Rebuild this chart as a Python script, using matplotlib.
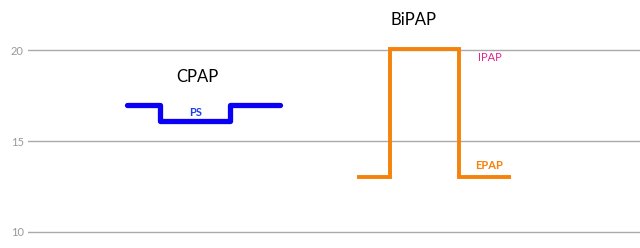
import matplotlib
matplotlib.use("Agg")
import matplotlib.pyplot as plt

# time axis in arbitrary units, pressure in cmH2O
cpap_x = [99, 132, 132, 202, 202, 252]
cpap_y = [17, 17, 16.1, 16.1, 17, 17]

bipap_x = [329, 362, 362, 431, 431, 483]
bipap_y = [13, 13, 20.05, 20.05, 13, 13]

yticks = [10, 15, 20]

plt.rcParams['font.family'] = ['Lato', 'DejaVu Sans']

fig = plt.figure(figsize=(6.4, 2.48), dpi=100)
ax = fig.add_axes([28 / 640, 14.2 / 248, 612 / 640, 233.8 / 248])

ax.plot(cpap_x, cpap_y, color='#0a00f5', lw=3.8, solid_capstyle='round', solid_joinstyle='round')
ax.plot(bipap_x, bipap_y, color='#f5820a', lw=2.8, solid_capstyle='butt', solid_joinstyle='miter')

ax.text(169, 18.5, 'CPAP', ha='center', va='center', fontsize=12, color='black')
ax.text(385, 21.65, 'BiPAP', ha='center', va='center', fontsize=12, color='black')
ax.text(168, 16.55, 'PS', ha='center', va='center', fontsize=8, color='#1a3cf0', fontweight='bold')
ax.text(462, 19.6, 'IPAP', ha='center', va='center', fontsize=8, color='#e0248c')
ax.text(461, 13.65, 'EPAP', ha='center', va='center', fontsize=8, color='#f5820a', fontweight='bold')

ax.set_xlim(0, 612)
ax.set_ylim(9.9, 22.75)
ax.set_yticks(yticks)
ax.set_xticks([])
ax.grid(axis='y', color='#aaaaaa', lw=1)
ax.set_axisbelow(True)
ax.tick_params(axis='y', length=0, pad=3, labelsize=8, labelcolor='#999999')
for s in ax.spines.values():
    s.set_visible(False)

fig.savefig('out.png', dpi=100)
